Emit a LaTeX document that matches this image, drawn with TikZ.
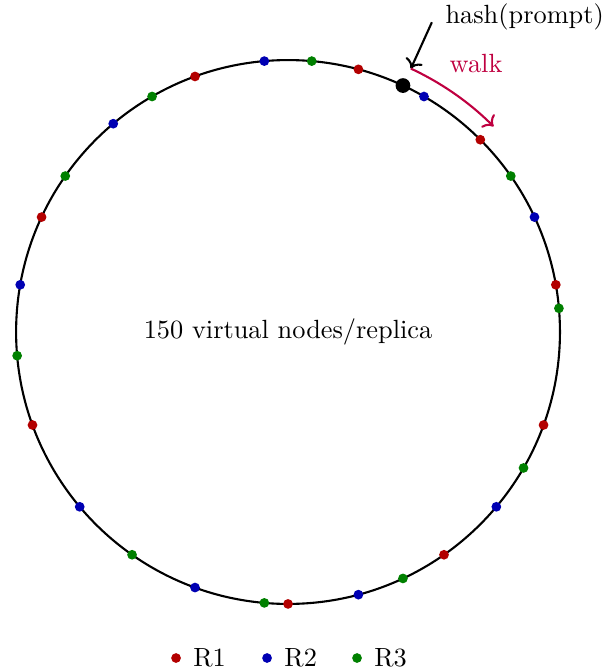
\documentclass[tikz,border=0pt]{standalone}
\usepackage{xcolor}
\usepackage{tikz}
\usetikzlibrary{arrows.meta, positioning}
\definecolor{ringred}{HTML}{B30000}
\definecolor{ringblue}{HTML}{0000B3}
\definecolor{ringgreen}{HTML}{008000}
\definecolor{walkpurple}{rgb}{0.75,0,0.25}

\begin{document}
\begin{tikzpicture}[
  vnode/.style={circle, inner sep=0pt, minimum size=3.7pt},
  keydot/.style={circle, fill=black, inner sep=0pt, minimum size=5.6pt},
  ring/.style={thick},
  walkarrow/.style={thick, draw=walkpurple, ->}
]
\useasboundingbox (-3.845,-4.512) rectangle (4.192,4.432);
\def\R{3.63}

% the hash ring
\draw[ring] (0,0) circle (\R);
\node (caption) at (0,0) {150 virtual nodes/replica};

% virtual nodes of each replica
\foreach \a in {10,45,75,110,155,200,270,305,340}
  \node[vnode, fill=ringred] (r1-\a) at (\a:\R) {};
\foreach \a in {25,60,95,130,170,220,250,285,320}
  \node[vnode, fill=ringblue] (r2-\a) at (\a:\R) {};
\foreach \a in {5,35,85,120,145,185,235,265,295,330}
  \node[vnode, fill=ringgreen] (r3-\a) at (\a:\R) {};

% lookup point
\node[keydot] (key) at (65:\R) {};
\coordinate (entry) at (65:3.88);
\node[anchor=west, inner sep=0pt] (hash) at (2.096,4.205) {hash(prompt)};
\draw[thick, ->] ([xshift=-5pt,yshift=-2pt]hash.west) -- (entry);

% clockwise walk to the next replica
\draw[walkarrow] (entry) arc[start angle=65, end angle=45, radius=3.88];
\node[text=walkpurple] (walk) at (2.51,3.578) {walk};

% legend
\node[vnode, fill=ringred] (k1) at (-1.495,-4.352) {};
\node[right=1pt of k1] (k1t) {R1};
\node[vnode, fill=ringblue] (k2) at (-0.280,-4.352) {};
\node[right=1pt of k2] (k2t) {R2};
\node[vnode, fill=ringgreen] (k3) at (0.921,-4.352) {};
\node[right=1pt of k3] (k3t) {R3};
\end{tikzpicture}
\end{document}
